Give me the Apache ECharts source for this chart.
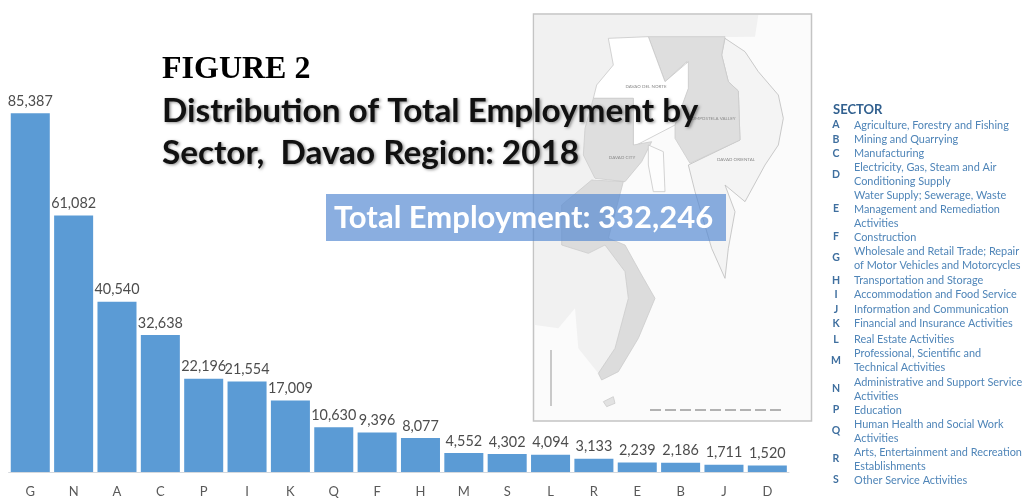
<!DOCTYPE html>
<html><head><meta charset="utf-8">
<style>html,body{margin:0;padding:0;background:#fff}#c{width:1023px;height:498px}</style>
<script src="https://cdn.jsdelivr.net/npm/echarts@6/dist/echarts.min.js"></script>
</head><body><div id="c"></div>
<script>
const categories = ['G','N','A','C','P','I','K','Q','F','H','M','S','L','R','E','B','J','D'];
const employment = [85387,61082,40540,32638,22196,21554,17009,10630,9396,8077,4552,4302,4094,3133,2239,2186,1711,1520];
const sectorCodes = ['A','B','C','D','E','F','G','H','I','J','K','L','M','N','P','Q','R','S'];
const sectorNames = [
 'Agriculture, Forestry and Fishing','Mining and Quarrying','Manufacturing',
 'Electricity, Gas, Steam and Air\nConditioning Supply',
 'Water Supply; Sewerage, Waste\nManagement and Remediation\nActivities',
 'Construction','Wholesale and Retail Trade; Repair\nof Motor Vehicles and Motorcycles',
 'Transportation and Storage','Accommodation and Food Service','Information and Communication',
 'Financial and Insurance Activities','Real Estate Activities',
 'Professional, Scientific and\nTechnical Activities',
 'Administrative and Support Service\nActivities','Education',
 'Human Health and Social Work\nActivities','Arts, Entertainment and Recreation\nEstablishments',
 'Other Service Activities'];
const sectorRowY = [125,139.5,153.5,174.5,209,237,258,280.5,294.5,309.5,323.5,339.5,360.5,389,410,431,459,480];
const totalLabel = 'Total Employment: 332,246';

const FONT = 'Lato, "Open Sans", sans-serif';
// backdrop map shapes, traced in the zoomed crop's coordinates
const z = pts => pts.map(p => [525 + p[0] / 3, 5 + p[1] / 3]);
const poly = (pts, fill, stroke) => ({type:'polygon', z:1, silent:true,
  shape:{points:z(pts)}, style:{fill, stroke:stroke||'#d2d2d2', lineWidth:stroke?0.8:0}});
const mapLabel = (t, x, y) => ({type:'text', z:2, silent:true, x, y,
  style:{text:t, font:'4.5px '+FONT, fill:'#8a8a8a', align:'center', verticalAlign:'middle'}});

const graphics = [
 {type:'rect', z:0, silent:true, shape:{x:533.5,y:14,width:278,height:407},
  style:{fill:'#fbfbfb', stroke:'#c4c4c4', lineWidth:1.5}},
 poly([[30,30],[700,30],[690,95],[250,100],[265,180],[215,240],[180,370],[175,450],[210,520],[110,600],[110,720],[190,745],[240,720],[300,800],[310,880],[270,1030],[220,1105],[160,1030],[150,910],[100,970],[30,960]],'#f1f1f1'),
 poly([[600,100],[660,140],[700,200],[760,270],[775,340],[760,420],[720,480],[660,590],[600,540],[630,620],[610,730],[600,820],[560,730],[510,560],[490,480],[645,405],[640,258],[610,230],[590,150]],'#f4f4f4','#bdbdbd'),
 poly([[370,95],[600,95],[590,150],[610,230],[640,258],[645,405],[495,475],[450,400],[450,360],[490,240],[485,170],[420,230]],'#dedede','#cccccc'),
 poly([[250,100],[370,95],[420,230],[490,170],[490,250],[450,360],[325,425],[325,280],[205,280],[215,240],[265,180]],'#ffffff','#c8c8c8'),
 poly([[205,280],[325,280],[325,420],[380,410],[350,470],[300,530],[210,520],[175,450],[180,370]],'#dedede','#cccccc'),
 poly([[200,525],[295,530],[250,700],[300,720],[350,810],[390,880],[340,1000],[280,1100],[230,1125],[220,1105],[270,1030],[310,880],[300,800],[240,720],[190,745],[110,720],[110,600]],'#dcdcdc','#cccccc'),
 poly([[370,420],[415,440],[420,560],[385,560],[370,480]],'#fdfdfd','#c8c8c8'),
 poly([[235,1190],[265,1175],[270,1195],[245,1205]],'#e2e2e2','#cccccc'),
 mapLabel('DAVAO DEL NORTE',646,87), mapLabel('COMPOSTELA VALLEY',712,119),
 mapLabel('DAVAO CITY',622,158), mapLabel('DAVAO ORIENTAL',736,160),
 {type:'line', z:2, silent:true, shape:{x1:650,y1:410,x2:783,y2:410}, style:{stroke:'#9a9a9a',lineWidth:1.5,lineDash:[11,4]}},
 {type:'line', z:2, silent:true, shape:{x1:551,y1:350,x2:551,y2:406}, style:{stroke:'#b8b8b8',lineWidth:1.5}},
 {type:'rect', z:20, silent:true, shape:{x:326,y:194,width:400,height:47}, style:{fill:'rgba(82,135,209,0.68)'}},
 {type:'text', z:21, silent:true, x:334, y:218,
  style:{text:totalLabel, font:'bold 31px '+FONT, fill:'#fff', verticalAlign:'middle',
   shadowColor:'rgba(40,40,40,0.65)', shadowBlur:3, shadowOffsetX:1.5, shadowOffsetY:1.5}},
 {type:'text', z:5, x:833, y:110, style:{text:'SECTOR', font:'bold 13px '+FONT, fill:'#31608f', verticalAlign:'middle'}}
];
sectorCodes.forEach((c,i)=>{
  graphics.push({type:'text', z:5, x:836, y:sectorRowY[i],
    style:{text:c, font:'bold 10.5px '+FONT, fill:'#3f6f9f', align:'center', verticalAlign:'middle'}});
  graphics.push({type:'text', z:5, x:854, y:sectorRowY[i],
    style:{text:sectorNames[i], font:'10.9px '+FONT, lineHeight:14, fill:'#4f85b8', verticalAlign:'middle'}});
});

const chart = echarts.init(document.getElementById('c'), null, {renderer:'canvas'});
chart.setOption({
  animation:false,
  backgroundColor:'#fff',
  title:[
   {text:'FIGURE 2', left:162, top:54, padding:0, textStyle:{fontFamily:'"Liberation Serif", serif', fontWeight:'bold', fontSize:32, color:'#000'}},
   {text:'Distribution of Total Employment by\nSector,  Davao Region: 2018', left:162, top:90, padding:0,
    textStyle:{fontFamily:FONT, fontWeight:'bold', fontSize:33.3, lineHeight:42, color:'#111',
     textShadowColor:'rgba(60,60,60,0.55)', textShadowBlur:3, textShadowOffsetX:1.5, textShadowOffsetY:1.5}}
  ],
  grid:{left:8.6, width:780.4, top:94, height:380, containLabel:false},
  xAxis:{type:'category', data:categories,
    axisLine:{lineStyle:{color:'#d5d9de',width:1}}, axisTick:{show:false},
    axisLabel:{margin:13, fontFamily:FONT, fontSize:13, color:'#595959'}},
  yAxis:{type:'value', min:0, max:90000, show:false},
  series:[{type:'bar', data:employment, barCategoryGap:'10%',
    itemStyle:{color:'#5b9bd5'},
    label:{show:true, position:'top', distance:5, fontFamily:FONT, fontSize:14.4, color:'#4d4d4d',
      formatter:p=>p.value.toLocaleString('en-US')}}],
  graphic:{elements:graphics}
});
</script></body></html>
